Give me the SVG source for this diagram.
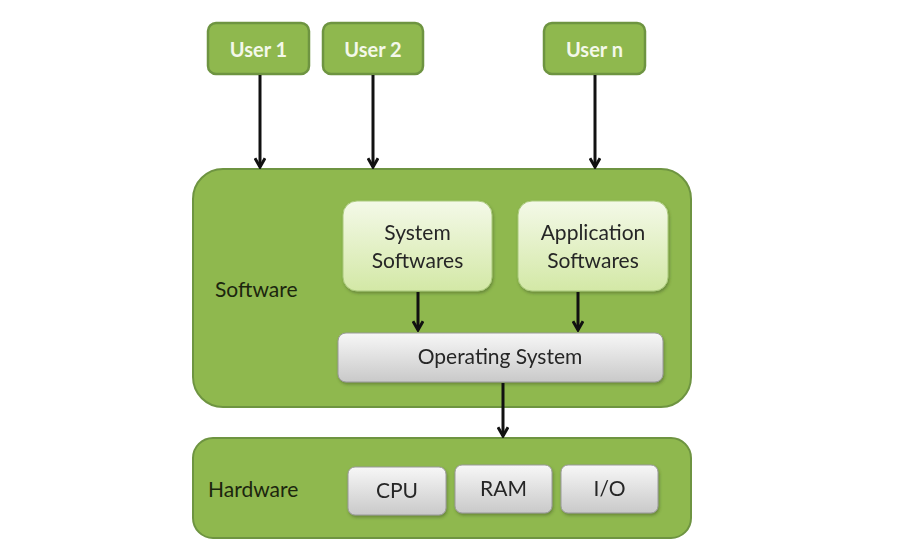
<svg xmlns="http://www.w3.org/2000/svg" width="909" height="555" viewBox="0 0 909 555">
  <style>
    .green { fill: #8fb84e; stroke: #6e9441; stroke-width: 2; }
    .user { fill: #8fb84e; stroke: #6e9441; stroke-width: 2.5; }
    .soft { fill: url(#lightGreen); stroke: #a9c97a; stroke-width: 1; }
    .gray { fill: url(#grayFill); stroke: #9a9a9a; stroke-width: 1; }
    .ut { font-family: "Lato", "Liberation Sans", sans-serif; font-size: 20px; font-weight: bold; fill: #f4f8ea; text-anchor: middle; }
    .t { font-family: "Lato", "Liberation Sans", sans-serif; font-size: 21px; fill: #262626; text-anchor: middle; }
    .lbl { font-family: "Lato", "Liberation Sans", sans-serif; font-size: 21px; fill: #1c260e; }
    .conn { stroke: #111; stroke-width: 3; fill: none; marker-end: url(#arrow); }
  </style>
  <defs>
    <linearGradient id="lightGreen" x1="0" y1="0" x2="0" y2="1">
      <stop offset="0" stop-color="#f4f9e8"/>
      <stop offset="1" stop-color="#d3e8a6"/>
    </linearGradient>
    <linearGradient id="grayFill" x1="0" y1="0" x2="0" y2="1">
      <stop offset="0" stop-color="#f7f7f7"/>
      <stop offset="1" stop-color="#c9c9c9"/>
    </linearGradient>
    <filter id="shadow" x="-10%" y="-10%" width="120%" height="130%">
      <feDropShadow dx="1" dy="2" stdDeviation="1.5" flood-color="#3d4f22" flood-opacity="0.45"/>
    </filter>
    <marker id="arrow" viewBox="0 0 10 10" refX="8.5" refY="5" markerWidth="4.2" markerHeight="4.2" orient="auto" markerUnits="strokeWidth">
      <path d="M1.5,1 L8.5,5 L1.5,9" fill="none" stroke="#111" stroke-width="2.4"/>
    </marker>
  </defs>

  <rect width="909" height="555" fill="#ffffff"/>

  <!-- Containers -->
  <g id="software">
    <rect class="green" x="193" y="169" width="498" height="238" rx="30"/>
    <text class="lbl" x="215" y="297">Software</text>
  </g>
  <g id="hardware">
    <rect class="green" x="193" y="438" width="498" height="100" rx="20"/>
    <text class="lbl" x="208" y="497">Hardware</text>
  </g>

  <!-- Users -->
  <g id="user1">
    <rect class="user" x="208" y="23" width="101" height="51" rx="8"/>
    <text class="ut" x="258.5" y="57">User 1</text>
  </g>
  <g id="user2">
    <rect class="user" x="323" y="23" width="100" height="51" rx="8"/>
    <text class="ut" x="373" y="57">User 2</text>
  </g>
  <g id="usern">
    <rect class="user" x="544" y="23" width="101" height="51" rx="8"/>
    <text class="ut" x="594.5" y="57">User n</text>
  </g>

  <!-- Software layer -->
  <g id="system-softwares" filter="url(#shadow)">
    <rect class="soft" x="343" y="201" width="149" height="90" rx="14"/>
    <text class="t" x="417.5" y="240">System</text>
    <text class="t" x="417.5" y="268">Softwares</text>
  </g>
  <g id="application-softwares" filter="url(#shadow)">
    <rect class="soft" x="518" y="201" width="150" height="90" rx="14"/>
    <text class="t" x="593" y="240">Application</text>
    <text class="t" x="593" y="268">Softwares</text>
  </g>
  <g id="operating-system" filter="url(#shadow)">
    <rect class="gray" x="338" y="333" width="325" height="49" rx="8"/>
    <text class="t" x="500" y="364">Operating System</text>
  </g>

  <!-- Hardware components -->
  <g id="cpu" filter="url(#shadow)">
    <rect class="gray" x="348" y="467" width="98" height="48" rx="7"/>
    <text class="t" x="397" y="498">CPU</text>
  </g>
  <g id="ram" filter="url(#shadow)">
    <rect class="gray" x="455" y="465" width="97" height="48" rx="7"/>
    <text class="t" x="503.5" y="496">RAM</text>
  </g>
  <g id="io" filter="url(#shadow)">
    <rect class="gray" x="561" y="465" width="97" height="48" rx="7"/>
    <text class="t" x="609.5" y="496">I/O</text>
  </g>

  <!-- Connectors -->
  <g id="connectors">
    <line class="conn" x1="260" y1="75" x2="260" y2="167"/>
    <line class="conn" x1="373" y1="75" x2="373" y2="167"/>
    <line class="conn" x1="595" y1="75" x2="595" y2="167"/>
    <line class="conn" x1="418" y1="292" x2="418" y2="330"/>
    <line class="conn" x1="578" y1="292" x2="578" y2="330"/>
    <line class="conn" x1="503" y1="383" x2="503" y2="436"/>
  </g>
</svg>
